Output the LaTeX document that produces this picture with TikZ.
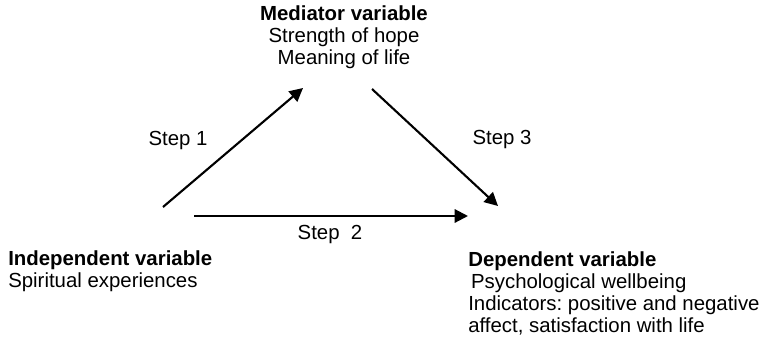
\documentclass[tikz,border=0pt]{standalone}
\usepackage{fontspec}
\setmainfont{Liberation Sans}
\usetikzlibrary{arrows.meta}
\frenchspacing

\begin{document}
\begin{tikzpicture}[x=0.025cm,y=-0.025cm,
    font=\fontsize{14.5}{15.6}\selectfont,
    txt/.style={inner sep=0pt},
    link/.style={line width=1.5pt,-{Triangle[length=9.5pt,width=9.5pt]}}]
  \useasboundingbox (0,0) rectangle (765,344);

  % Variables
  \node[txt,align=center] (med) at (344,37) {\textbf{Mediator variable}\\Strength of hope\\Meaning of life};
  \node[txt,align=left,anchor=west] (indep) at (8,271) {\textbf{Independent variable}\\Spiritual experiences};
  \node[txt,align=left,anchor=west] (dep) at (468,293.5) {\textbf{Dependent variable}\\\hspace{2pt}Psychological wellbeing\\Indicators: positive and negative\\affect, satisfaction with life};

  % Arrow ends
  \coordinate (s1a) at (163,207);
  \coordinate (s1b) at (303,88);
  \coordinate (s3a) at (372,89);
  \coordinate (s3b) at (498,206);
  \coordinate (s2a) at (194,216);
  \coordinate (s2b) at (468,216);

  % Steps
  \draw[link] (s1a) -- (s1b);
  \draw[link] (s3a) -- (s3b);
  \draw[link] (s2a) -- (s2b);
  \node[txt] (step1) at (178,140) {Step 1};
  \node[txt] (step3) at (502,139) {Step 3};
  \node[txt] (step2) at (330,234) {Step\ \ 2};
\end{tikzpicture}
\end{document}
